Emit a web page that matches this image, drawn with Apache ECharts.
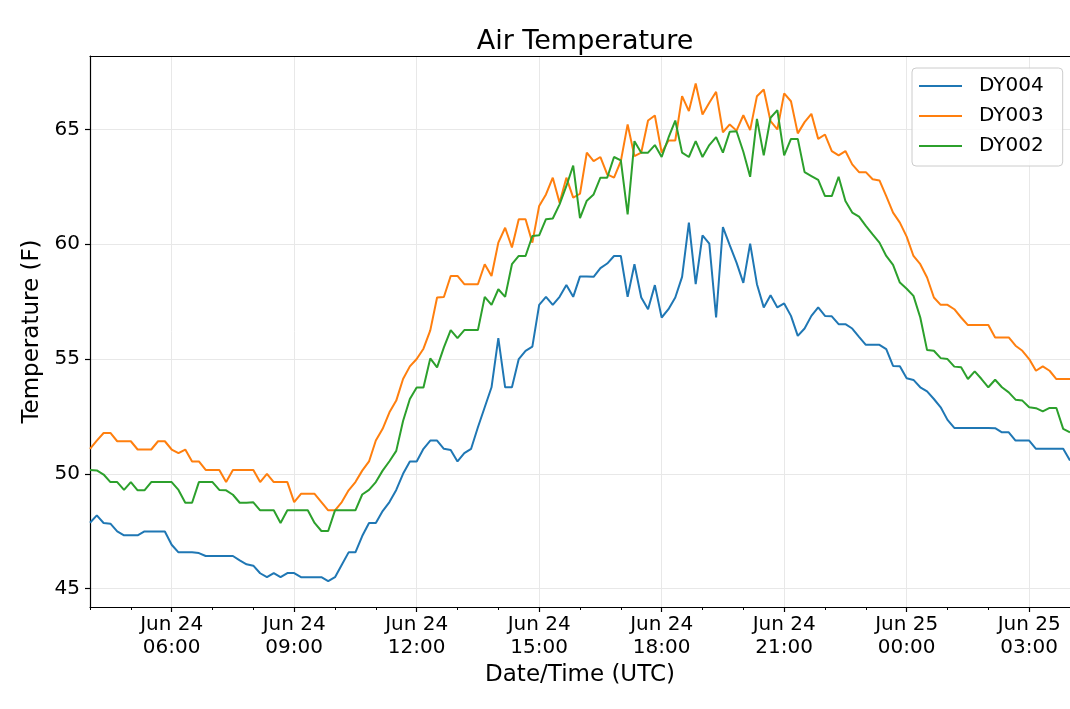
<!DOCTYPE html>
<html>
<head>
<meta charset="utf-8">
<script src="https://cdn.jsdelivr.net/npm/echarts@6/dist/echarts.min.js"></script>
<style>
  html, body { margin: 0; padding: 0; background: #fff; }
  #chart { width: 1070px; height: 709px; }
</style>
</head>
<body>
<div id="chart"></div>
<script>
// readings every 10 minutes, starting Jun 24 04:00 UTC (145 points)
var startDay = 24;
var startMinutes = 4 * 60;
var stepMinutes = 10;

var dy004 = [
  47.87, 48.19, 47.86, 47.83, 47.49, 47.32, 47.32, 47.32, 47.49, 47.49,
  47.49, 47.49, 46.91, 46.58, 46.58, 46.58, 46.55, 46.42, 46.42, 46.42,
  46.42, 46.42, 46.23, 46.06, 46.00, 45.67, 45.50, 45.68, 45.50, 45.68,
  45.68, 45.50, 45.50, 45.50, 45.50, 45.33, 45.50, 46.04, 46.58, 46.58,
  47.29, 47.86, 47.86, 48.38, 48.77, 49.30, 50.00, 50.54, 50.54, 51.09,
  51.45, 51.45, 51.09, 51.04, 50.54, 50.90, 51.09, 52.03, 52.90, 53.77,
  55.91, 53.77, 53.77, 55.00, 55.36, 55.54, 57.36, 57.71, 57.36, 57.71,
  58.23, 57.71, 58.60, 58.60, 58.58, 58.96, 59.16, 59.49, 59.49, 57.71,
  59.13, 57.68, 57.17, 58.22, 56.81, 57.17, 57.68, 58.58, 60.94, 58.26,
  60.39, 60.03, 56.81, 60.75, 59.96, 59.20, 58.32, 60.03, 58.26, 57.25,
  57.78, 57.25, 57.42, 56.88, 56.01, 56.33, 56.88, 57.25, 56.88, 56.86,
  56.52, 56.52, 56.33, 55.97, 55.62, 55.62, 55.62, 55.43, 54.70, 54.69,
  54.16, 54.09, 53.77, 53.59, 53.26, 52.90, 52.35, 52.00, 52.00, 52.00,
  52.00, 52.00, 52.00, 51.99, 51.81, 51.81, 51.45, 51.45, 51.45, 51.09,
  51.09, 51.09, 51.09, 51.09, 50.58
];

var dy003 = [
  51.09, 51.45, 51.78, 51.78, 51.42, 51.42, 51.42, 51.06, 51.06, 51.06,
  51.42, 51.42, 51.06, 50.90, 51.06, 50.54, 50.54, 50.17, 50.17, 50.17,
  49.64, 50.17, 50.17, 50.17, 50.17, 49.64, 50.00, 49.64, 49.64, 49.64,
  48.77, 49.13, 49.13, 49.13, 48.77, 48.41, 48.41, 48.77, 49.28, 49.64,
  50.14, 50.54, 51.45, 51.96, 52.68, 53.19, 54.13, 54.68, 55.00, 55.45,
  56.25, 57.68, 57.70, 58.62, 58.62, 58.26, 58.26, 58.26, 59.13, 58.62,
  60.07, 60.72, 59.86, 61.09, 61.09, 60.07, 61.67, 62.17, 62.90, 61.81,
  62.90, 62.03, 62.20, 63.99, 63.62, 63.80, 63.04, 62.90, 63.62, 65.22,
  63.84, 63.99, 65.39, 65.61, 63.99, 64.52, 64.52, 66.45, 65.80, 67.00,
  65.65, 66.16, 66.64, 64.88, 65.22, 64.95, 65.62, 64.97, 66.45, 66.74,
  65.36, 65.00, 66.57, 66.23, 64.83, 65.32, 65.68, 64.59, 64.78, 64.06,
  63.87, 64.06, 63.48, 63.14, 63.14, 62.83, 62.78, 62.10, 61.38, 60.94,
  60.33, 59.49, 59.13, 58.55, 57.68, 57.36, 57.36, 57.17, 56.81, 56.48,
  56.48, 56.48, 56.48, 55.94, 55.94, 55.94, 55.58, 55.36, 55.00, 54.49,
  54.68, 54.49, 54.13, 54.13, 54.13
];

var dy002 = [
  50.17, 50.15, 49.97, 49.64, 49.64, 49.30, 49.64, 49.28, 49.28, 49.64,
  49.64, 49.64, 49.64, 49.30, 48.74, 48.74, 49.64, 49.64, 49.64, 49.30,
  49.28, 49.09, 48.74, 48.74, 48.76, 48.41, 48.41, 48.41, 47.86, 48.41,
  48.41, 48.41, 48.41, 47.86, 47.51, 47.51, 48.41, 48.41, 48.41, 48.41,
  49.10, 49.30, 49.64, 50.14, 50.55, 51.00, 52.30, 53.26, 53.76, 53.76,
  55.03, 54.64, 55.51, 56.26, 55.91, 56.26, 56.26, 56.26, 57.71, 57.36,
  58.04, 57.71, 59.13, 59.49, 59.49, 60.36, 60.39, 61.09, 61.12, 61.74,
  62.54, 63.43, 61.14, 61.90, 62.17, 62.90, 62.90, 63.80, 63.65, 61.30,
  64.49, 63.99, 63.99, 64.32, 63.80, 64.64, 65.39, 63.99, 63.80, 64.49,
  63.80, 64.32, 64.67, 63.99, 64.90, 64.92, 64.03, 62.94, 65.46, 63.87,
  65.51, 65.84, 63.87, 64.59, 64.59, 63.14, 62.97, 62.80, 62.10, 62.10,
  62.94, 61.88, 61.38, 61.20, 60.80, 60.43, 60.07, 59.49, 59.10, 58.33,
  58.06, 57.75, 56.81, 55.39, 55.36, 55.04, 55.00, 54.67, 54.64, 54.13,
  54.46, 54.13, 53.77, 54.10, 53.77, 53.55, 53.23, 53.19, 52.90, 52.86,
  52.72, 52.87, 52.87, 51.96, 51.81
];

var yTicks = [45, 50, 55, 60, 65];

function pad(n) { return (n < 10 ? '0' : '') + n; }

var times = [];
for (var i = 0; i < dy004.length; i++) {
  var m = startMinutes + i * stepMinutes;
  var day = startDay + Math.floor(m / 1440);
  var mm = m % 1440;
  times.push('Jun ' + day + '\n' + pad(Math.floor(mm / 60)) + ':' + pad(mm % 60));
}

// major ticks every 3 hours (on 00, 03, 06 ...), minor every hour
function isHour(idx) {
  return (startMinutes + idx * stepMinutes) % 60 === 0;
}
function isMajor(idx) {
  var m = (startMinutes + idx * stepMinutes) % 1440;
  return m % 180 === 0;
}

var font = 'DejaVu Sans';
var myChart = echarts.init(document.getElementById('chart'), null, { renderer: 'canvas' });

var option = {
  animation: false,
  backgroundColor: '#fff',
  textStyle: { fontFamily: font, color: '#000' },
  title: {
    text: 'Air Temperature',
    left: 580,
    textAlign: 'center',
    top: 23,
    textStyle: { fontFamily: font, fontSize: 27, fontWeight: 'normal', color: '#000' }
  },
  legend: {
    orient: 'vertical',
    left: 912,
    top: 68,
    data: ['DY004', 'DY003', 'DY002'],
    icon: 'rect',
    itemWidth: 43,
    itemHeight: 2,
    itemGap: 10,
    padding: [8, 19, 10, 7],
    backgroundColor: 'rgba(255,255,255,0.8)',
    borderColor: '#cccccc',
    borderWidth: 1,
    borderRadius: 4,
    textStyle: { fontFamily: font, fontSize: 20, color: '#000', lineHeight: 20, padding: [0, 0, 0, 12] }
  },
  grid: { left: 90, right: 0, top: 56, bottom: 102 },
  xAxis: [
    {
      type: 'category',
      data: times,
      boundaryGap: false,
      position: 'bottom',
      axisLine: { lineStyle: { color: '#000', width: 1.2 } },
      axisTick: { interval: function (idx) { return isMajor(idx); }, length: 5, lineStyle: { color: '#000', width: 1.2 } },
      axisLabel: {
        interval: function (idx) { return isMajor(idx); },
        fontFamily: font, fontSize: 20, color: '#000', lineHeight: 23, margin: 6
      },
      splitLine: { show: true, interval: function (idx) { return isMajor(idx); }, lineStyle: { color: '#e8e8e8', width: 1 } },
      name: 'Date/Time (UTC)',
      nameLocation: 'middle',
      nameGap: 56,
      nameTextStyle: { fontFamily: font, fontSize: 23, color: '#000' }
    },
    {
      type: 'category',
      data: times,
      boundaryGap: false,
      position: 'bottom',
      axisLine: { show: false },
      axisTick: { interval: function (idx) { return isHour(idx); }, length: 3, lineStyle: { color: '#000', width: 1 } },
      axisLabel: { show: false },
      splitLine: { show: false }
    },
    {
      type: 'category',
      data: times,
      boundaryGap: false,
      position: 'top',
      axisLine: { lineStyle: { color: '#000', width: 1.2 } },
      axisTick: { show: false },
      axisLabel: { show: false },
      splitLine: { show: false }
    }
  ],
  yAxis: {
    type: 'value',
    min: 44.2,
    max: 68.2,
    axisLine: { show: true, lineStyle: { color: '#000', width: 1.2 } },
    axisTick: { show: true, customValues: yTicks, length: 5, lineStyle: { color: '#000', width: 1.2 } },
    axisLabel: { customValues: yTicks, fontFamily: font, fontSize: 20, color: '#000', margin: 10 },
    splitLine: { show: true, lineStyle: { color: '#e8e8e8', width: 1 } },
    name: 'Temperature (F)',
    nameLocation: 'middle',
    nameGap: 42,
    nameTextStyle: { fontFamily: font, fontSize: 23, color: '#000' }
  },
  series: [
    { name: 'DY004', type: 'line', data: dy004, showSymbol: false, symbol: 'none', color: '#1f77b4', lineStyle: { width: 2 } },
    { name: 'DY003', type: 'line', data: dy003, showSymbol: false, symbol: 'none', color: '#ff7f0e', lineStyle: { width: 2 } },
    { name: 'DY002', type: 'line', data: dy002, showSymbol: false, symbol: 'none', color: '#2ca02c', lineStyle: { width: 2 } }
  ]
};

myChart.setOption(option);
</script>
</body>
</html>
